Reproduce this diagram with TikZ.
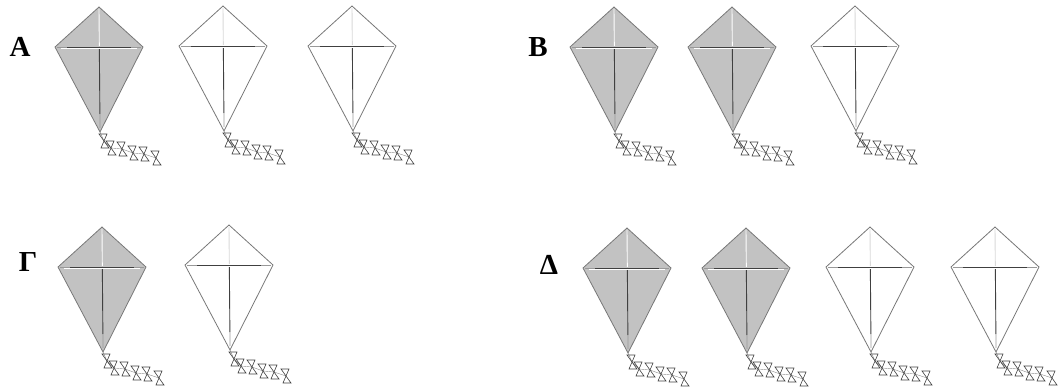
\documentclass[tikz,border=0pt]{standalone}
\usepackage{fontspec}
\setmainfont{Liberation Serif}
\definecolor{kitegray}{RGB}{194,194,194}
\definecolor{kiteedge}{RGB}{120,120,120}
\tikzset{
  x=1pt, y=-1pt,
  kiteline/.style={draw=kiteedge, line width=0.8pt, line join=miter},
  spardark/.style={draw=black!75, line width=0.9pt},
  sparsoft/.style={draw=black!40, line width=0.8pt},
  bowtieline/.style={draw=black!75, line width=0.6pt, line join=miter},
  tailstring/.style={draw=black!45, line width=0.4pt},
  lbl/.style={font=\fontsize{29}{30}\selectfont\bfseries, inner sep=0pt},
  pics/bowtie/.style={code={
    \draw[bowtieline] (-5,-7) -- (3,-7) -- (0,0) -- cycle
                      (0,0) -- (5,7) -- (-3,7) -- cycle;
  }},
  pics/kite/.style n args={3}{code={
    \coordinate (-t) at (0,0);
    \coordinate (-l) at (-44,40);
    \coordinate (-r) at (44,40);
    \coordinate (-b) at (1,125);
    \filldraw[kiteline, fill=#1] (-t) -- (-r) -- (-b) -- (-l) -- cycle;
    % vertical spar
    \draw[draw=#2, line width=0.9pt] (0,2) -- (0.33,39);
    \draw[spardark] (0.33,41) -- (0.9,107);
    \draw[sparsoft] (0.9,107) -- (1,121);
    % cross spar
    \draw[sparsoft] (-42,40) -- (-32,40);
    \draw[sparsoft] (32,40) -- (42,40);
    \draw[spardark] (-32,40) -- (32,40);
    \draw[draw=#3, line width=0.5pt] (-38,41.4) -- (38,41.4);
    % tail
    \draw[tailstring] (-b) -- (5,134) -- (12,141) -- (23,142) -- (34,146) -- (45,147) -- (57,151);
    \pic at (5,134) {bowtie};
    \pic at (12,141) {bowtie};
    \pic at (23,142) {bowtie};
    \pic at (34,146) {bowtie};
    \pic at (45,147) {bowtie};
    \pic at (57,151) {bowtie};
  }}
}
\begin{document}
\begin{tikzpicture}
\useasboundingbox (0,0) rectangle (1058,387);
% labels
\node[lbl] (labA) at (20,47) {Α};
\node[lbl] (labB) at (538,47) {Β};
\node[lbl] (labG) at (28,262) {Γ};
\node[lbl] (labD) at (549,265) {Δ};
% row A
\pic (A1) at (99,7) {kite={kitegray}{white}{white}};
\pic (A2) at (223,6) {kite={white}{black!15}{white}};
\pic (A3) at (352,6) {kite={white}{black!15}{white}};
% row B
\pic (B1) at (614,7) {kite={kitegray}{white}{white}};
\pic (B2) at (732,7) {kite={kitegray}{white}{white}};
\pic (B3) at (855,6) {kite={white}{black!15}{white}};
% row G
\pic (G1) at (102,227) {kite={kitegray}{white}{white}};
\pic (G2) at (229,225) {kite={white}{black!15}{white}};
% row D
\pic (D1) at (627,228) {kite={kitegray}{white}{white}};
\pic (D2) at (746,228) {kite={kitegray}{white}{white}};
\pic (D3) at (870,227) {kite={white}{black!15}{white}};
\pic (D4) at (995,227) {kite={white}{black!15}{white}};
\end{tikzpicture}
\end{document}
